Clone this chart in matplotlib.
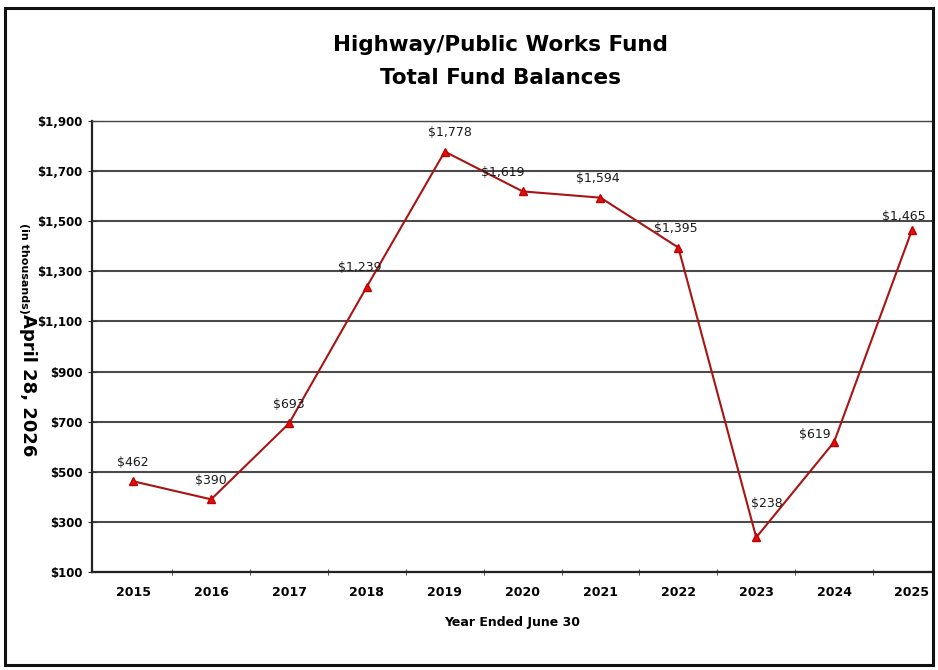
import numpy as np
import matplotlib.pyplot as plt
from matplotlib.patches import Rectangle

years = ['2015', '2016', '2017', '2018', '2019', '2020',
         '2021', '2022', '2023', '2024', '2025']
balances = [462, 390, 693, 1239, 1778, 1619, 1594, 1395, 238, 619, 1465]
y_ticks = [100, 300, 500, 700, 900, 1100, 1300, 1500, 1700, 1900]

# label offsets in points (dx, dy), roughly as placed in the original
label_offsets = [(0, 9), (0, 9), (0, 9), (-5, 9), (4, 9), (-14, 9),
                 (-2, 9), (-2, 9), (8, 20), (-14, 1), (-6, 5)]

plt.rcParams['font.family'] = ['DejaVu Sans']

fig = plt.figure(figsize=(9.38, 6.70), dpi=100)
W, H = 938, 670
left, right, top, bottom = 92, 933, 121, 572
ax = fig.add_axes([left / W, 1 - bottom / H, (right - left) / W, (bottom - top) / H])

x = np.arange(len(years))
ax.plot(x, balances, color='#a81414', lw=1.5, marker='^', ms=6,
        markerfacecolor='#e01010', markeredgecolor='#c00000', zorder=3)

for xi, v, (dx, dy) in zip(x, balances, label_offsets):
    ax.annotate('${:,}'.format(v), (xi, v), xytext=(dx, dy), textcoords='offset points',
                ha='center', va='bottom', fontsize=9, color='#1a1a1a')

ax.set_ylim(100, 1900)
ax.set_xlim(-0.53, 10.27)
ax.set_yticks(y_ticks)
ax.set_yticklabels(['${:,}'.format(t) for t in y_ticks], fontsize=8.5, fontweight='bold')
ax.set_xticks(x)
ax.set_xticklabels(years, fontsize=9, fontweight='bold')
ax.set_xticks(np.arange(len(years) - 1) + 0.5, minor=True)
ax.tick_params(axis='x', which='major', length=0, pad=10)
ax.tick_params(axis='x', which='minor', length=4, direction='inout', color='#333333')
ax.tick_params(axis='y', length=6, direction='inout', color='#333333', pad=4)

ax.grid(axis='y', color='#4a4a4a', lw=1.5)
ax.set_axisbelow(True)
for side in ['top', 'right']:
    ax.spines[side].set_color('#444444')
    ax.spines[side].set_linewidth(1.0)
ax.spines['left'].set_color('#222222')
ax.spines['left'].set_linewidth(1.6)
ax.spines['bottom'].set_color('#222222')
ax.spines['bottom'].set_linewidth(1.6)

ax.set_xlabel('Year Ended June 30', fontsize=9, fontweight='bold', labelpad=12)

fig.text(500 / W, 1 - 45 / H, 'Highway/Public Works Fund', ha='center', va='center',
         fontsize=15.5, fontweight='bold')
fig.text(500 / W, 1 - 78 / H, 'Total Fund Balances', ha='center', va='center',
         fontsize=15.5, fontweight='bold')

# y axis caption and the date stamp printed near it
fig.text(24 / W, 1 - 268 / H, '(in thousands)', rotation=270, ha='center', va='center',
         fontsize=8, fontweight='bold')
fig.text(28 / W, 1 - 385 / H, 'April 28, 2026', rotation=270, ha='center', va='center',
         fontsize=13, fontweight='bold')

# outer chart frame
fig.patches.append(Rectangle((5 / W, 5 / H), 928 / W, 657 / H, transform=fig.transFigure,
                             fill=False, edgecolor='#111111', lw=2.2))

fig.savefig('out.png', dpi=100)
